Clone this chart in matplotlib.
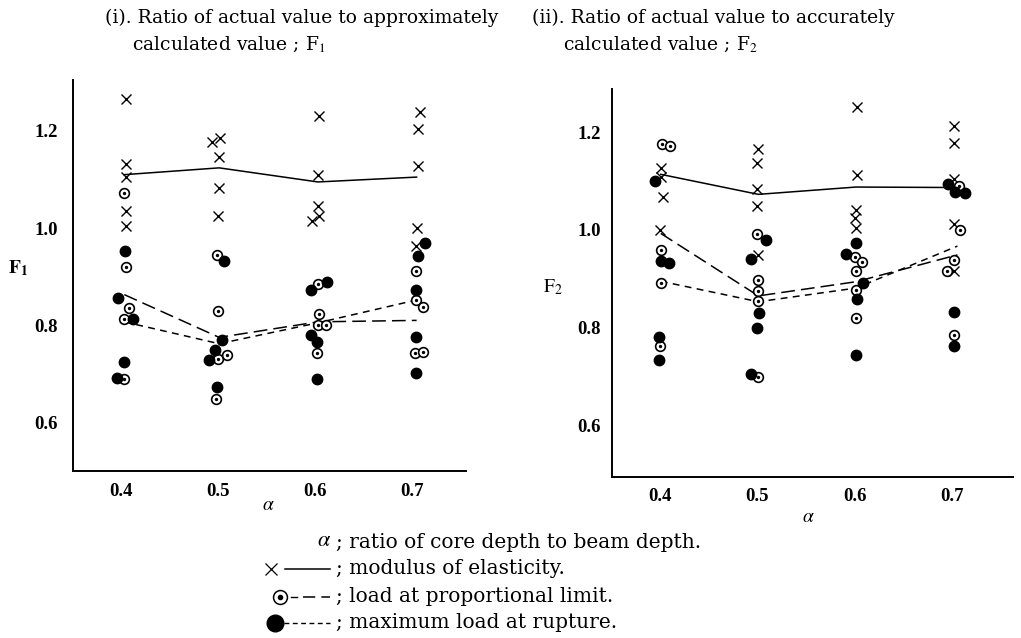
import matplotlib
matplotlib.use("Agg")
import matplotlib.pyplot as plt
from matplotlib.lines import Line2D

plt.rcParams['font.family'] = ['Liberation Serif', 'DejaVu Serif']
plt.rcParams['mathtext.fontset'] = 'stix'

# ---- data ----
# panel (i): F1
p1_cross_x = [0.405, 0.405, 0.405, 0.405, 0.405,
              0.494, 0.502, 0.501, 0.501, 0.500,
              0.604, 0.603, 0.603, 0.604, 0.597,
              0.708, 0.706, 0.706, 0.705, 0.704]
p1_cross_y = [1.266, 1.131, 1.105, 1.035, 1.005,
              1.177, 1.186, 1.147, 1.082, 1.025,
              1.231, 1.110, 1.046, 1.025, 1.015,
              1.240, 1.204, 1.128, 1.001, 0.964]
p1_ring_x = [0.403, 0.405, 0.408, 0.403, 0.403,
             0.499, 0.500, 0.500, 0.509, 0.498,
             0.603, 0.604, 0.603, 0.611, 0.602,
             0.704, 0.704, 0.712, 0.703, 0.712]
p1_ring_y = [1.072, 0.919, 0.835, 0.813, 0.689,
             0.945, 0.830, 0.730, 0.738, 0.649,
             0.885, 0.823, 0.801, 0.801, 0.742,
             0.912, 0.851, 0.837, 0.742, 0.745]
p1_dot_x = [0.404, 0.397, 0.412, 0.403, 0.395,
            0.506, 0.504, 0.497, 0.491, 0.499,
            0.596, 0.612, 0.596, 0.602, 0.602,
            0.714, 0.706, 0.704, 0.704, 0.704]
p1_dot_y = [0.952, 0.856, 0.813, 0.725, 0.692,
            0.932, 0.769, 0.750, 0.729, 0.672,
            0.873, 0.890, 0.779, 0.766, 0.690,
            0.970, 0.942, 0.873, 0.776, 0.702]
p1_line_x = [0.403, 0.501, 0.603, 0.705]
p1_elastic = [1.110, 1.124, 1.095, 1.105]
p1_prop = [0.863, 0.775, 0.807, 0.810]
p1_rupture = [0.807, 0.762, 0.805, 0.852]

# panel (ii): F2
p2_cross_x = [0.401, 0.401, 0.403, 0.400,
              0.501, 0.500, 0.500, 0.500, 0.501,
              0.602, 0.602, 0.601, 0.600, 0.601,
              0.701, 0.702, 0.702, 0.701, 0.702]
p2_cross_y = [1.126, 1.108, 1.068, 1.000,
              1.165, 1.137, 1.085, 1.049, 0.949,
              1.253, 1.113, 1.040, 1.024, 1.005,
              1.214, 1.178, 1.105, 1.012, 0.916]
p2_ring_x = [0.402, 0.410, 0.401, 0.401, 0.400,
             0.500, 0.501, 0.501, 0.501, 0.501,
             0.600, 0.607, 0.601, 0.601, 0.601,
             0.707, 0.708, 0.702, 0.694, 0.701]
p2_ring_y = [1.176, 1.172, 0.960, 0.892, 0.763,
             0.991, 0.897, 0.876, 0.855, 0.698,
             0.945, 0.934, 0.917, 0.878, 0.820,
             1.091, 1.001, 0.938, 0.915, 0.785]
p2_dot_x = [0.395, 0.401, 0.409, 0.399, 0.399,
            0.509, 0.493, 0.502, 0.500, 0.493,
            0.601, 0.591, 0.608, 0.602, 0.601,
            0.695, 0.703, 0.713, 0.701, 0.702]
p2_dot_y = [1.101, 0.936, 0.933, 0.780, 0.733,
            0.979, 0.940, 0.830, 0.800, 0.704,
            0.973, 0.950, 0.892, 0.858, 0.744,
            1.094, 1.077, 1.075, 0.832, 0.762]
p2_line_x = [0.401, 0.501, 0.601, 0.705]
p2_elastic = [1.114, 1.073, 1.088, 1.087]
p2_prop = [0.993, 0.865, 0.894, 0.949]
p2_rupture = [0.895, 0.853, 0.881, 0.967]

xticks = [0.4, 0.5, 0.6, 0.7]
yticks = [0.6, 0.8, 1.0, 1.2]

TXT = 'DejaVu Serif'


def draw_panel(ax, cx, cy, rx, ry, dx, dy, lx, el, pr, ru, xlim, ylim):
    ax.plot(lx, el, color='black', lw=1.1)
    ax.plot(lx, pr, color='black', lw=1.1, dashes=(9, 4))
    ax.plot(lx, ru, color='black', lw=1.1, dashes=(4.5, 3.5))
    ax.plot(cx, cy, 'x', color='black', ms=6.5, mew=1.0)
    ax.plot(rx, ry, 'o', mfc='white', mec='black', ms=7, mew=1.2)
    ax.plot(rx, ry, 'o', color='black', ms=1.4)
    ax.plot(dx, dy, 'o', color='black', ms=7.5)
    ax.set_xlim(*xlim)
    ax.set_ylim(*ylim)
    ax.set_xticks(xticks)
    ax.set_yticks(yticks)
    ax.set_xticklabels(['0.4', '0.5', '0.6', '0.7'])
    ax.set_yticklabels(['0.6', '0.8', '1.0', '1.2'])
    for s in ['top', 'right']:
        ax.spines[s].set_visible(False)
    for s in ['left', 'bottom']:
        ax.spines[s].set_linewidth(1.4)
    ax.tick_params(length=0, labelsize=13.5)
    for t in ax.get_xticklabels() + ax.get_yticklabels():
        t.set_fontweight('bold')


fig = plt.figure(figsize=(10.21, 6.38), dpi=100)
ax1 = fig.add_axes([0.0715, 0.2618, 0.3849, 0.6129])
ax2 = fig.add_axes([0.5994, 0.2524, 0.3928, 0.6082])

draw_panel(ax1, p1_cross_x, p1_cross_y, p1_ring_x, p1_ring_y, p1_dot_x, p1_dot_y,
           p1_line_x, p1_elastic, p1_prop, p1_rupture, (0.35, 0.756), (0.50, 1.305))
draw_panel(ax2, p2_cross_x, p2_cross_y, p2_ring_x, p2_ring_y, p2_dot_x, p2_dot_y,
           p2_line_x, p2_elastic, p2_prop, p2_rupture, (0.351, 0.762), (0.494, 1.289))
ax1.tick_params(axis='y', pad=11)
ax1.tick_params(axis='x', pad=9)
ax2.tick_params(axis='y', pad=8)
ax2.tick_params(axis='x', pad=8)

# titles
fig.text(105 / 1021, 1 - 18 / 638, '(i). Ratio of actual value to approximately',
         fontsize=13.5, family=TXT, va='center', ha='left')
fig.text(132 / 1021, 1 - 45 / 638, 'calculated value ; F$_1$',
         fontsize=13.5, family=TXT, va='center', ha='left')
fig.text(532 / 1021, 1 - 18 / 638, '(ii). Ratio of actual value to accurately',
         fontsize=13.5, family=TXT, va='center', ha='left')
fig.text(563 / 1021, 1 - 45 / 638, 'calculated value ; F$_2$',
         fontsize=13.5, family=TXT, va='center', ha='left')

# axis names
fig.text(18 / 1021, 1 - 268 / 638, r'$\mathbf{F}_\mathbf{1}$', fontsize=14, ha='center', va='center')
fig.text(553 / 1021, 1 - 287 / 638, r'$\mathrm{F}_2$', fontsize=14, ha='center', va='center')
fig.text(268 / 1021, 1 - 506 / 638, r'$\alpha$', fontsize=14, ha='center', va='center')
fig.text(808 / 1021, 1 - 518 / 638, r'$\alpha$', fontsize=14, ha='center', va='center')

# legend block
rows = [542, 569, 597, 623]
fig.text(331 / 1021, 1 - rows[0] / 638, r'$\alpha$', fontsize=16, ha='right', va='center')
texts = ['; ratio of core depth to beam depth.',
         '; modulus of elasticity.',
         '; load at proportional limit.',
         '; maximum load at rupture.']
for r, t in zip(rows, texts):
    fig.text(336 / 1021, 1 - r / 638, t, fontsize=14.5, family=TXT, ha='left', va='center')

def fx(px):
    return px / 1021

def fy(py):
    return 1 - py / 638

fig.add_artist(Line2D([fx(271)], [fy(rows[1])], marker='x', color='black', ms=9, mew=0.9))
fig.add_artist(Line2D([fx(285), fx(330)], [fy(rows[1]), fy(rows[1])], color='black', lw=1.1))
fig.add_artist(Line2D([fx(280)], [fy(rows[2])], marker='o', mfc='white', mec='black', ms=10, mew=1.1))
fig.add_artist(Line2D([fx(280)], [fy(rows[2])], marker='o', color='black', ms=3))
fig.add_artist(Line2D([fx(291), fx(297)], [fy(rows[2]), fy(rows[2])], color='black', lw=1.0))
fig.add_artist(Line2D([fx(303), fx(330)], [fy(rows[2]), fy(rows[2])], color='black', lw=1.1,
                      dashes=(8, 4)))
fig.add_artist(Line2D([fx(275)], [fy(rows[3])], marker='o', color='black', ms=12))
fig.add_artist(Line2D([fx(284), fx(330)], [fy(rows[3]), fy(rows[3])], color='black', lw=1.0,
                      dashes=(3.5, 2.5)))

fig.savefig('out.png', dpi=100)
